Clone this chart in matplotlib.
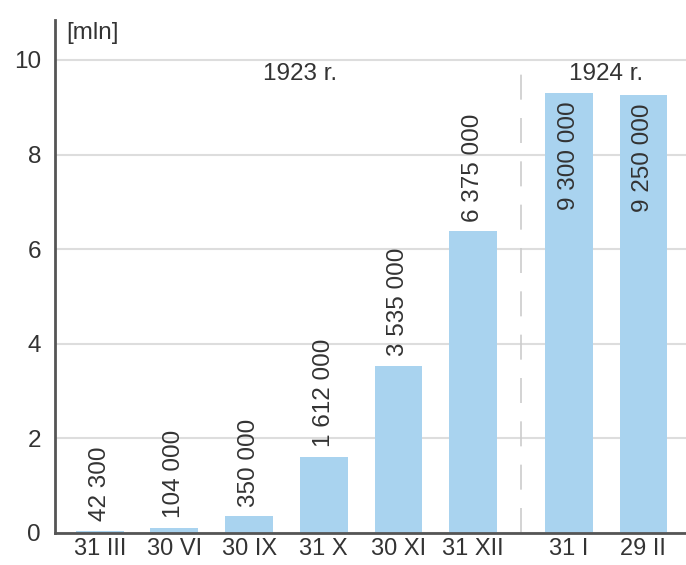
import numpy as np
import matplotlib
matplotlib.use("Agg")
import matplotlib.pyplot as plt

plt.rcParams['font.family'] = ['Liberation Sans', 'DejaVu Sans']

# data
dates = ['31 III', '30 VI', '30 IX', '31 X', '30 XI', '31 XII', '31 I', '29 II']
values_mln = [0.0423, 0.104, 0.35, 1.612, 3.535, 6.375, 9.3, 9.25]
value_labels = ['42 300', '104 000', '350 000', '1 612 000', '3 535 000',
                '6 375 000', '9 300 000', '9 250 000']
years = ['1923 r.', '1924 r.']
n_1923 = 6

# bar positions, with a wider gap between the two years
gap = 0.28
x = np.arange(len(dates)) + np.where(np.arange(len(dates)) >= n_1923, gap, 0)

fig = plt.figure(figsize=(6.86, 5.65), dpi=100)
ax = fig.add_axes([0.080, 0.057, 0.92, 0.908])

bar_color = '#a9d3ef'
text_color = '#333333'
fs = 17.5

ax.bar(x, values_mln, width=0.64, color=bar_color, zorder=2)

ax.set_xlim(-0.6, 7.85)
ax.set_ylim(0, 10.85)
ax.set_yticks([0, 2, 4, 6, 8, 10])
ax.yaxis.grid(True, color='#dddddd', linewidth=1.5, zorder=0)
ax.set_axisbelow(True)

ax.set_xticks(x)
ax.set_xticklabels(dates)
ax.tick_params(length=0, labelsize=fs, colors=text_color)
ax.tick_params(axis='x', pad=4, labelsize=17)
ax.tick_params(axis='y', pad=10)

for side in ['top', 'right']:
    ax.spines[side].set_visible(False)
for side in ['left', 'bottom']:
    ax.spines[side].set_color('#555555')
    ax.spines[side].set_linewidth(2)

# value labels: above short bars, inside the tall ones
for xi, v, lab in zip(x, values_mln, value_labels):
    if v > 9:
        ax.text(xi, v - 0.17, lab, rotation=90, ha='center', va='top',
                fontsize=fs, color=text_color, zorder=3)
    else:
        ax.text(xi, v + 0.2, lab, rotation=90, ha='center', va='bottom',
                fontsize=fs, color=text_color, zorder=3)

# year separator and year captions
sep = (x[n_1923 - 1] + x[n_1923]) / 2
ax.plot([sep, sep], [0, 10], color='#cccccc', linewidth=1.2,
        dashes=(15, 11), zorder=1)
ax.text(2.68, 9.7, years[0], ha='center', va='center', fontsize=fs, color=text_color)
ax.text((x[n_1923] + x[-1]) / 2, 9.7, years[1], ha='center', va='center',
        fontsize=fs, color=text_color)

ax.text(0.018, 0.975, '[mln]', transform=ax.transAxes, ha='left', va='center',
        fontsize=fs, color=text_color)

fig.savefig('out.png', dpi=100)
